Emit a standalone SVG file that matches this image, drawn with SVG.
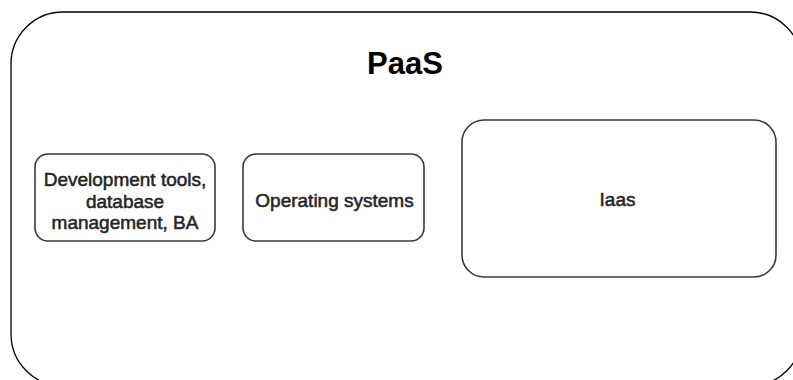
<svg xmlns="http://www.w3.org/2000/svg" width="793" height="380" viewBox="0 0 793 380">
  <style>
    .container { fill: #ffffff; stroke: #000000; stroke-width: 1.3; }
    .box { fill: #ffffff; stroke: #3a3a3a; stroke-width: 1.6; }
    .label { font-family: "Liberation Sans", Arial, sans-serif; font-size: 19px; fill: #262626; stroke: #262626; stroke-width: 0.55; text-anchor: middle; }
    .title { font-family: "Liberation Sans", Arial, sans-serif; font-size: 31px; font-weight: bold; fill: #000000; text-anchor: middle; }
  </style>
  <rect width="793" height="380" fill="#ffffff"/>

  <!-- PaaS container -->
  <g id="paas">
    <rect class="container" x="11" y="12" width="791" height="374" rx="52" ry="52"/>
    <text class="title" x="405" y="74">PaaS</text>
  </g>

  <g id="dev-tools">
    <rect class="box" x="35" y="154" width="180" height="87" rx="13" ry="13"/>
    <text class="label" x="125" y="186">Development tools,</text>
    <text class="label" x="125" y="207.5">database</text>
    <text class="label" x="125" y="228.5">management, BA</text>
  </g>

  <g id="operating-systems">
    <rect class="box" x="243" y="154" width="181" height="87" rx="13" ry="13"/>
    <text class="label" x="334.5" y="207">Operating systems</text>
  </g>

  <g id="iaas">
    <rect class="box" x="462" y="120" width="314" height="157" rx="22" ry="22"/>
    <text class="label" x="617.5" y="206">Iaas</text>
  </g>

  <!-- no connectors in this diagram -->
  <g id="connectors"/>
</svg>
